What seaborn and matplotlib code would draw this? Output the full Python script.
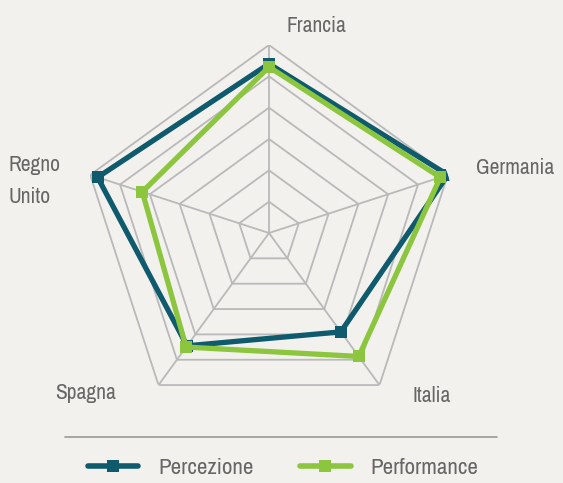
import numpy as np
import pandas as pd
import matplotlib
matplotlib.use("Agg")
import matplotlib.pyplot as plt
from matplotlib.lines import Line2D
import seaborn as sns

categories = ["Francia", "Germania", "Italia", "Spagna", "Regno Unito"]
percezione = [5.4, 6.0, 3.9, 4.45, 5.75]
performance = [5.3, 5.75, 4.87, 4.5, 4.25]
series_names = ["Percezione", "Performance"]
levels = [1, 2, 3, 4, 5, 6]

BG = "#f2f1ee"
DARK = "#0f5a6c"
GREEN = "#8cc63e"
GRID = "#b9b9b9"
TXT = "#666666"

sns.set_theme(style="white")
plt.rcParams["font.family"] = ["Archivo Narrow", "DejaVu Sans"]

W, H = 563, 483
fig = plt.figure(figsize=(W / 100, H / 100), dpi=100, facecolor=BG)
cx, cy, R = 269, 233, 188
ax = fig.add_axes([(cx - R) / W, (H - cy - R) / H, 2 * R / W, 2 * R / H],
                  projection="polar")
ax.set_facecolor("none")
ax.set_theta_offset(np.pi / 2)
ax.set_theta_direction(-1)

n = len(categories)
angles = np.arange(n) * 2 * np.pi / n
closed = np.append(angles, angles[0])

# pentagonal grid
for lv in levels:
    ax.plot(closed, [lv] * (n + 1), color=GRID, lw=1.3, zorder=1)
for a in angles:
    ax.plot([a, a], [0, levels[-1]], color=GRID, lw=1.3, zorder=1)

rows = []
for name, vals in zip(series_names, [percezione, performance]):
    for i, (a, v) in enumerate(zip(closed, vals + [vals[0]])):
        rows.append({"serie": name, "order": i, "theta": a, "r": v})
df = pd.DataFrame(rows)

sns.lineplot(data=df, x="theta", y="r", hue="serie", sort=False,
             palette={"Percezione": DARK, "Performance": GREEN},
             hue_order=series_names, lw=3.8, marker="s", markersize=8,
             markeredgewidth=0, ax=ax, legend=False, zorder=3, estimator=None,
             units="serie")

ax.set_ylim(0, levels[-1])
ax.set_xticks([])
ax.set_yticks([])
ax.grid(False)
ax.spines["polar"].set_visible(False)
ax.set_xlabel("")
ax.set_ylabel("")

def ftext(x, y, s, **kw):
    fig.text(x / W, 1 - y / H, s, color=TXT, fontsize=15.5, **kw)

ftext(287, 26, categories[0], ha="left", va="center")
ftext(476, 168, categories[1], ha="left", va="center")
ftext(413, 396, categories[2], ha="left", va="center")
ftext(55, 393, categories[3], ha="left", va="center")
ftext(9, 181, "Regno\nUnito", ha="left", va="center", linespacing=1.75)

fig.add_artist(Line2D([65 / W, 497 / W], [1 - 437 / H, 1 - 437 / H],
                      color="#9a9a9a", lw=1.2, transform=fig.transFigure))

handles = [Line2D([], [], color=DARK, lw=4, marker="s", markersize=9, markeredgewidth=0),
           Line2D([], [], color=GREEN, lw=4, marker="s", markersize=9, markeredgewidth=0)]
leg = fig.legend(handles, series_names, loc="center left",
                 bbox_to_anchor=(88 / W, 1 - 468 / H), ncol=2, frameon=False,
                 fontsize=16.5, handlelength=2.2, handletextpad=0.85,
                 columnspacing=2.05, borderaxespad=0, borderpad=0)
for t in leg.get_texts():
    t.set_color(TXT)

fig.savefig("out.png", dpi=100, facecolor=BG)
